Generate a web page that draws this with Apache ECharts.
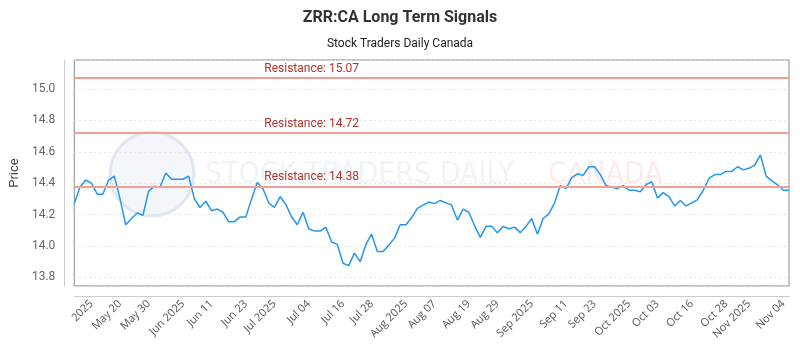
<!DOCTYPE html>
<html>
<head>
<meta charset="utf-8">
<script src="https://cdn.jsdelivr.net/npm/echarts@6/dist/echarts.min.js"></script>
<style>
  html, body { margin: 0; padding: 0; background: #fff; }
  #chart { width: 800px; height: 350px; }
</style>
</head>
<body>
<div id="chart"></div>
<script>
// closing prices, one per point
const prices = [
  14.27, 14.375, 14.42, 14.40, 14.33, 14.33, 14.42, 14.445, 14.30, 14.135,
  14.175, 14.21, 14.195, 14.35, 14.38, 14.375, 14.465, 14.425, 14.425, 14.425,
  14.445, 14.30, 14.245, 14.285, 14.225, 14.235, 14.215, 14.155, 14.155, 14.185,
  14.185, 14.30, 14.405, 14.365, 14.275, 14.245, 14.315, 14.265, 14.185, 14.135,
  14.215, 14.11, 14.095, 14.095, 14.12, 14.025, 14.01, 13.89, 13.875, 13.955,
  13.90, 14.01, 14.075, 13.965, 13.965, 14.005, 14.05, 14.135, 14.135, 14.18,
  14.24, 14.26, 14.28, 14.27, 14.29, 14.275, 14.26, 14.165, 14.235, 14.215,
  14.13, 14.055, 14.125, 14.125, 14.085, 14.125, 14.11, 14.12, 14.085, 14.125,
  14.175, 14.075, 14.175, 14.205, 14.275, 14.385, 14.365, 14.435, 14.46, 14.45,
  14.505, 14.505, 14.455, 14.385, 14.375, 14.365, 14.385, 14.355, 14.355, 14.345,
  14.39, 14.41, 14.305, 14.34, 14.315, 14.255, 14.29, 14.255, 14.275, 14.295,
  14.355, 14.43, 14.455, 14.455, 14.475, 14.475, 14.505, 14.485, 14.495, 14.515,
  14.58, 14.445, 14.415, 14.39, 14.355, 14.355
]
// x axis labels and the point index each one sits on
const tickLabels = ['2025', 'May 20', 'May 30', 'Jun 2025', 'Jun 11', 'Jun 23', 'Jul 2025', 'Jul 04',
  'Jul 16', 'Jul 28', 'Aug 2025', 'Aug 07', 'Aug 19', 'Aug 29', 'Sep 2025', 'Sep 11', 'Sep 23',
  'Oct 2025', 'Oct 03', 'Oct 16', 'Oct 28', 'Nov 2025', 'Nov 04']
const tickIdx = [3, 8, 13, 19, 24, 30, 35, 41, 47, 52, 58, 63, 69, 74, 80, 86, 91, 97, 102, 108, 114, 118, 124]
// resistance levels
const resistance = [15.07, 14.72, 14.38]

const categories = prices.map((p, i) => {
  const k = tickIdx.indexOf(i)
  return k >= 0 ? tickLabels[k] : ''
})

const chart = echarts.init(document.getElementById('chart'))
chart.setOption({
  animation: false,
  title: {
    text: 'ZRR:CA Long Term Signals',
    subtext: 'Stock Traders Daily Canada',
    left: 'center',
    top: 5,
    itemGap: 12,
    textStyle: { fontFamily: 'Roboto', fontSize: 16, fontWeight: 'bold', color: '#333' },
    subtextStyle: { fontFamily: 'Roboto', fontSize: 12, color: '#222' }
  },
  // faint watermark behind the plot
  graphic: [
    {
      type: 'circle', silent: true, z: -1,
      shape: { cx: 152, cy: 174, r: 42 },
      style: { fill: 'rgba(215,225,240,0.3)', stroke: 'rgba(200,212,232,0.5)', lineWidth: 3 }
    },
    {
      type: 'text', silent: true, z: -1, left: 205, top: 160,
      style: { text: 'STOCK TRADERS DAILY', font: '30px "DejaVu Sans Condensed", Roboto', fill: 'rgba(205,214,230,0.3)' }
    },
    {
      type: 'text', silent: true, z: -1, left: 548, top: 160,
      style: { text: 'CANADA', font: '30px "DejaVu Sans Condensed", Roboto', fill: 'rgba(250,190,190,0.3)' }
    }
  ],
  grid: {
    left: 71, right: 11, top: 60, bottom: 64,
    show: true, borderColor: '#888', borderWidth: 1
  },
  xAxis: {
    type: 'category',
    data: categories,
    boundaryGap: false,
    offset: 10,
    axisLine: { lineStyle: { color: '#ccc' } },
    axisTick: { show: false },
    axisLabel: {
      interval: 0, rotate: 45, margin: 6,
      fontFamily: 'Open Sans', fontSize: 11, color: '#555'
    },
    splitLine: { show: false }
  },
  yAxis: {
    type: 'value',
    min: 13.745,
    max: 15.185,
    minInterval: 0.2,
    maxInterval: 0.2,
    offset: 10,
    name: 'Price',
    nameLocation: 'middle',
    nameGap: 36,
    nameTextStyle: { fontFamily: 'Roboto', fontSize: 13, color: '#444' },
    axisLine: { show: true, lineStyle: { color: '#ccc' } },
    axisTick: { show: false },
    axisLabel: {
      showMinLabel: false, showMaxLabel: false, margin: 9,
      fontFamily: 'Roboto', fontSize: 12, color: '#666',
      formatter: v => v.toFixed(1)
    },
    splitLine: { lineStyle: { color: '#e4e4e4', type: [2, 3] } }
  },
  series: [
    {
      type: 'line',
      data: prices,
      symbol: 'none',
      lineStyle: { color: '#2196f3', width: 1.5 },
      z: 3,
      markLine: {
        silent: true,
        symbol: 'none',
        animation: false,
        lineStyle: { color: '#f2a097', width: 2, type: 'solid' },
        label: {
          position: 'insideStartTop',
          distance: [190, 3],
          formatter: p => 'Resistance: ' + p.value,
          fontFamily: 'Roboto', fontSize: 12, color: '#b0342a'
        },
        data: resistance.map(v => ({ yAxis: v }))
      }
    }
  ]
})
</script>
</body>
</html>
